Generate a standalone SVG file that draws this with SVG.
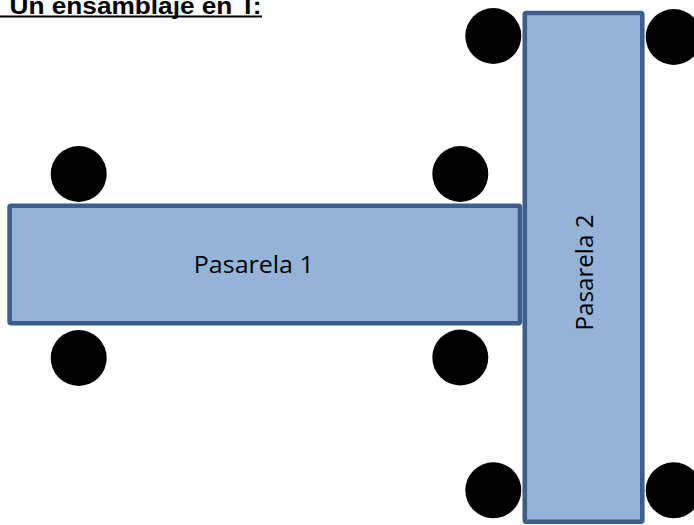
<svg xmlns="http://www.w3.org/2000/svg" width="694" height="525" viewBox="0 0 694 525">
<style>
.board{fill:#95B3D7;stroke:#3B5E8C;stroke-width:4.6}
.wheel{fill:#000}
.lbl{font-family:"Open Sans","Liberation Sans",sans-serif;font-size:24px;fill:#000}
.title{font-family:"Liberation Sans",Arial,sans-serif;font-size:23px;font-weight:bold;fill:#000}
</style>
<rect width="694" height="525" fill="#fff"/>
<g id="title">
<text class="title" x="9.5" y="14" textLength="252" lengthAdjust="spacingAndGlyphs">Un ensamblaje en T:</text>
<line x1="0" y1="16.5" x2="262" y2="16.5" stroke="#000" stroke-width="2"/>
</g>
<g id="connectors"></g>
<g id="wheels1">
<circle class="wheel" cx="78.7" cy="174" r="28"/>
<circle class="wheel" cx="460.3" cy="174" r="28"/>
<circle class="wheel" cx="78.7" cy="358" r="28"/>
<circle class="wheel" cx="460.3" cy="357.5" r="28"/>
</g>
<g id="wheels2">
<circle class="wheel" cx="493.3" cy="36" r="28"/>
<circle class="wheel" cx="673.7" cy="37" r="28"/>
<circle class="wheel" cx="493.3" cy="490.3" r="28"/>
<circle class="wheel" cx="673.7" cy="490.3" r="28"/>
</g>
<g id="pasarela1">
<rect class="board" x="9.6" y="205.7" width="510.4" height="117.6" rx="1.5"/>
<text class="lbl" x="253.8" y="273.3" text-anchor="middle" textLength="120" lengthAdjust="spacingAndGlyphs">Pasarela 1</text>
</g>
<g id="pasarela2">
<rect class="board" x="524.8" y="13" width="117.5" height="508.7" rx="1.5"/>
<text class="lbl" transform="translate(593.4,272.5) rotate(-90)" x="0" y="0" text-anchor="middle" textLength="116" lengthAdjust="spacingAndGlyphs">Pasarela 2</text>
</g>
</svg>
